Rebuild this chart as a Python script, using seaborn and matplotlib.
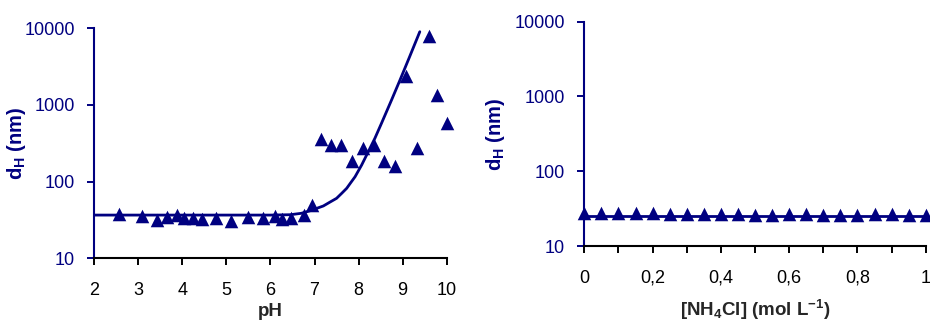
import seaborn as sns
import matplotlib.pyplot as plt
import pandas as pd

# --- data ---
# left panel: hydrodynamic diameter vs pH
ph_points = [2.56, 3.09, 3.42, 3.64, 3.87, 4.04, 4.23, 4.44, 4.76, 5.10,
             5.48, 5.84, 6.10, 6.27, 6.47, 6.76, 6.94, 7.14, 7.37, 7.60,
             7.84, 8.09, 8.35, 8.58, 8.83, 9.07, 9.32, 9.59, 9.77, 10.0]
dh_points = [38.0, 35.6, 32.0, 34.9, 36.7, 33.2, 33.5, 32.2, 33.2, 30.8,
             34.9, 33.2, 35.6, 32.2, 33.2, 36.7, 49.5, 355, 299, 299,
             187, 271, 299, 187, 161, 2370, 271, 7870, 1330, 585]

# fitted curve
ph_fit = [2.0, 4.0, 6.0, 6.45, 6.7, 6.9, 7.05, 7.2, 7.35, 7.5, 7.62, 7.73,
          7.82, 7.92, 8.07, 8.22, 8.37, 8.52, 8.75, 8.94, 9.15, 9.39]
dh_fit = [36.6, 36.6, 36.6, 37.0, 38.6, 41.7, 44.8, 48.1, 54.0, 60.5, 70.6,
          81.7, 96.4, 115.6, 164.4, 245, 366, 574, 1160, 2100, 4110, 8950]

# right panel: hydrodynamic diameter vs NH4Cl concentration
nh4cl = [0.0, 0.05, 0.1, 0.15, 0.2, 0.25, 0.3, 0.35, 0.4, 0.45, 0.5,
         0.55, 0.6, 0.65, 0.7, 0.75, 0.8, 0.85, 0.9, 0.95, 1.0]
dh_salt = [27.5, 27.8, 27.8, 27.8, 27.8, 27.0, 27.0, 27.0, 27.0, 27.0, 26.2,
           26.2, 27.0, 27.0, 26.2, 26.2, 26.2, 27.0, 27.0, 26.2, 26.2]
salt_fit_x = [0.0, 1.0]
salt_fit_y = [25.4, 25.4]

navy = '#000080'

sns.set_style('ticks')
plt.rcParams['font.family'] = ['Liberation Sans', 'DejaVu Sans']
plt.rcParams['mathtext.fontset'] = 'custom'
plt.rcParams['mathtext.rm'] = 'Liberation Sans'
plt.rcParams['mathtext.bf'] = 'Liberation Sans:bold'
plt.rcParams['mathtext.it'] = 'Liberation Sans:italic'

fig = plt.figure(figsize=(9.3, 3.22), dpi=100)
ax1 = fig.add_axes([0.1014, 0.1977, 0.3789, 0.7153])
ax2 = fig.add_axes([0.6283, 0.2360, 0.3671, 0.6967])

df_pts = pd.DataFrame({'pH': ph_points, 'dH': dh_points})
df_fit = pd.DataFrame({'pH': ph_fit, 'dH': dh_fit})
df_salt = pd.DataFrame({'c': nh4cl, 'dH': dh_salt})
df_salt_fit = pd.DataFrame({'c': salt_fit_x, 'dH': salt_fit_y})

sns.lineplot(data=df_fit, x='pH', y='dH', ax=ax1, color=navy, linewidth=2.0)
sns.scatterplot(data=df_pts, x='pH', y='dH', ax=ax1, marker='^', s=95,
                color=navy, edgecolor=navy, linewidth=0, zorder=3, clip_on=False)

sns.lineplot(data=df_salt_fit, x='c', y='dH', ax=ax2, color=navy, linewidth=2.0)
sns.scatterplot(data=df_salt, x='c', y='dH', ax=ax2, marker='^', s=95,
                color=navy, edgecolor=navy, linewidth=0, zorder=3, clip_on=False)

for ax in (ax1, ax2):
    ax.set_yscale('log')
    ax.set_ylim(10, 10000)
    ax.set_yticks([10, 100, 1000, 10000])
    ax.set_yticklabels(['10', '100', '1000', '10000'])
    ax.minorticks_off()
    sns.despine(ax=ax)
    ax.spines['left'].set_color(navy)
    ax.spines['left'].set_linewidth(1.5)
    ax.spines['bottom'].set_color('black')
    ax.spines['bottom'].set_linewidth(1.5)
    ax.tick_params(axis='y', colors=navy, labelcolor=navy, labelsize=13,
                   length=5, width=1.4, pad=9)
    ax.tick_params(axis='x', colors='black', labelsize=13, length=5,
                   width=1.4, pad=12)
    ax.set_ylabel(r'd$_\mathbf{H}$ (nm)', color=navy, fontsize=14.5,
                  fontweight='bold')

# y labels sit a little into the tick-label column, as in the original
ax1.yaxis.set_label_coords(-0.188, 0.5)
ax2.yaxis.set_label_coords(-0.227, 0.5)

ax1.set_xlim(2, 10)
ax1.set_xticks(range(2, 11))
ax1.set_xlabel('pH', fontsize=13.5, fontweight='bold', labelpad=3)

ax2.set_xlim(0, 1)
ax2.set_xticks([i / 10 for i in range(11)])
ax2.set_xticklabels(['0', '', '0,2', '', '0,4', '', '0,6', '', '0,8', '', '1'])
ax2.set_xlabel(r'[NH$_\mathbf{4}$Cl] (mol L$^\mathbf{-1}$)', fontsize=13.5,
               fontweight='bold', labelpad=8)

fig.savefig('out.png', dpi=100)
